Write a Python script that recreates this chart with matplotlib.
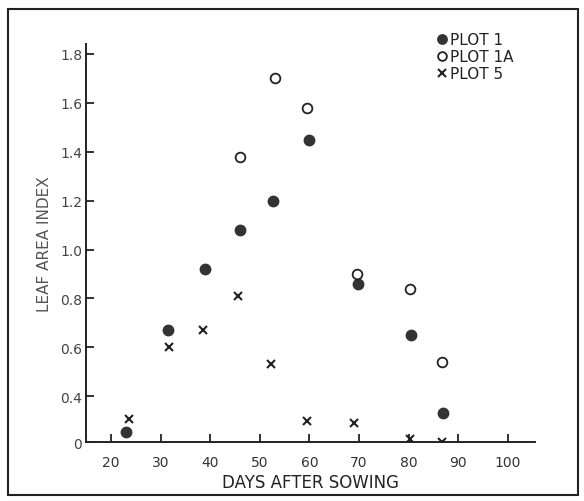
import numpy as np
import matplotlib
matplotlib.use("Agg")
import matplotlib.pyplot as plt
from matplotlib.patches import Rectangle

# values
days_p1 = [23, 31.5, 39, 46, 52.7, 60, 69.7, 80.5, 87]
lai_p1 = [0.09, 0.67, 0.92, 1.08, 1.20, 1.45, 0.86, 0.65, 0.25]

days_p1a = [46, 53, 59.6, 69.5, 80.3, 86.8]
lai_p1a = [1.38, 1.70, 1.58, 0.90, 0.84, 0.54]

days_p5 = [23.5, 31.6, 38.6, 45.5, 52.3, 59.5, 68.9, 80.3, 86.8]
lai_p5 = [0.20, 0.60, 0.67, 0.81, 0.53, 0.18, 0.165, 0.03, 0.0]

xticks = [20, 30, 40, 50, 60, 70, 80, 90, 100]
yticks = [0, 0.4, 0.6, 0.8, 1.0, 1.2, 1.4, 1.6, 1.8]
ylabels = ["0", "0.4", "0.6", "0.8", "1.0", "1.2", "1.4", "1.6", "1.8"]

# the original axis is squeezed below 0.4
SQ = 0.469


def fwd(v):
    v = np.asarray(v, dtype=float)
    return np.where(v >= 0.4, v, 0.4 - (0.4 - v) * SQ)


def inv(d):
    d = np.asarray(d, dtype=float)
    return np.where(d >= 0.4, d, 0.4 - (0.4 - d) / SQ)


fig = plt.figure(figsize=(5.84, 5.02), dpi=100)
fig.patches.append(Rectangle((0.0137, 0.012), 0.976, 0.968, transform=fig.transFigure,
                             fill=False, lw=1.5, ec="#222222"))

ax = fig.add_axes([0.148, 0.1175, 0.768, 0.7925])
ax.set_yscale("function", functions=(fwd, inv))

ax.plot(days_p1, lai_p1, "o", ms=7.5, color="#333333", ls="none", label="PLOT 1")
ax.plot(days_p1a, lai_p1a, "o", ms=7, mfc="white", mec="#222222", mew=1.3, ls="none",
        label="PLOT 1A")
ax.plot(days_p5, lai_p5, "x", ms=6, color="#222222", mew=1.5, ls="none", label="PLOT 5")

ax.set_xlim(15.0, 105.5)
ax.set_ylim(0, 1.84)
ax.set_xticks(xticks)
ax.set_yticks(yticks)
ax.set_yticklabels(ylabels)
ax.minorticks_off()

for s in ["top", "right"]:
    ax.spines[s].set_visible(False)
for s in ["left", "bottom"]:
    ax.spines[s].set_linewidth(1.4)
    ax.spines[s].set_color("#222222")

ax.tick_params(axis="x", direction="in", length=6, width=1.3, labelsize=10,
               colors="#222222", labelcolor="#333333", pad=9)
ax.tick_params(axis="y", direction="in", length=6, width=1.3, labelsize=10,
               colors="#222222", labelcolor="#444444", pad=3)

ax.set_xlabel("DAYS AFTER SOWING", fontsize=12, color="#222222", labelpad=3)
ax.set_ylabel("LEAF AREA INDEX", fontsize=11, color="#555555", labelpad=6)

leg = ax.legend(loc="upper left", bbox_to_anchor=(0.77, 1.045), frameon=False,
                handlelength=0.6, handletextpad=0.2, labelspacing=0.12,
                fontsize=11, borderaxespad=0, markerscale=0.9)
for t in leg.get_texts():
    t.set_color("#222222")

fig.savefig("out.png", dpi=100)
